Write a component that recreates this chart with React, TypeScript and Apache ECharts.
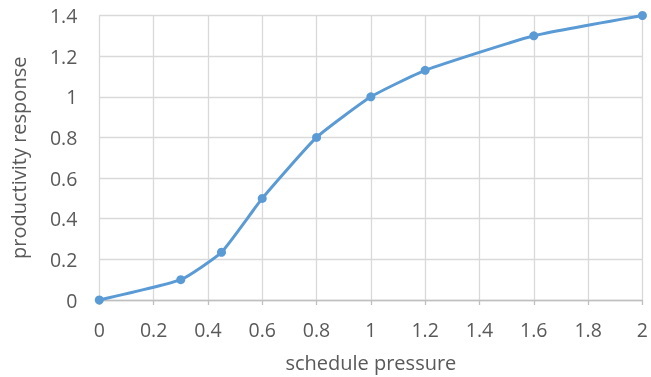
import React, { useEffect, useRef } from "react";
import * as echarts from "echarts";

const xValues = [0, 0.3, 0.45, 0.6, 0.8, 1, 1.2, 1.6, 2];
const yValues = [0, 0.1, 0.235, 0.5, 0.8, 1, 1.13, 1.3, 1.4];
const xTitle = "schedule pressure";
const yTitle = "productivity response";

const FONT = "Open Sans";
const TEXT = "#595959";
const GRID = "#D9D9D9";
const AXIS = "#BFBFBF";
const LINE = "#5B9BD5";

export default function App() {
  const ref = useRef<HTMLDivElement>(null);
  useEffect(() => {
    const chart = echarts.init(ref.current!, null, { renderer: "svg" });
    chart.setOption({
      animation: false,
      textStyle: { fontFamily: FONT },
      grid: { left: 99.3, right: 5.3, top: 15.5, bottom: 76, containLabel: false },
      xAxis: {
        type: "value",
        min: 0,
        max: 2,
        interval: 0.2,
        name: xTitle,
        nameLocation: "middle",
        nameGap: 52,
        nameTextStyle: { color: TEXT, fontSize: 20, fontFamily: FONT },
        axisLine: { show: true, lineStyle: { color: AXIS, width: 1.3 } },
        axisTick: { show: true, length: 5, lineStyle: { color: AXIS, width: 1.3 } },
        axisLabel: { color: TEXT, fontSize: 19.5, margin: 19.5, fontFamily: FONT },
        splitLine: { show: true, lineStyle: { color: GRID, width: 1.3 } },
      },
      yAxis: {
        type: "value",
        min: 0,
        max: 1.4,
        interval: 0.2,
        name: yTitle,
        nameLocation: "middle",
        nameGap: 71,
        nameRotate: 90,
        nameTextStyle: { color: TEXT, fontSize: 20, fontFamily: FONT },
        axisLine: { show: false },
        axisTick: { show: false },
        axisLabel: { color: TEXT, fontSize: 19.5, margin: 22, fontFamily: FONT },
        splitLine: { show: true, lineStyle: { color: GRID, width: 1.3 } },
      },
      series: [
        {
          type: "line",
          data: xValues.map((x, i) => [x, yValues[i]]),
          smooth: 0.15,
          symbol: "circle",
          symbolSize: 9,
          lineStyle: { color: LINE, width: 3 },
          itemStyle: { color: LINE },
        },
      ],
    });
    return () => chart.dispose();
  }, []);
  return (
    <div
      ref={ref}
      style={{ position: "fixed", left: 0, top: 0, width: 651, height: 377 }}
    />
  );
}
